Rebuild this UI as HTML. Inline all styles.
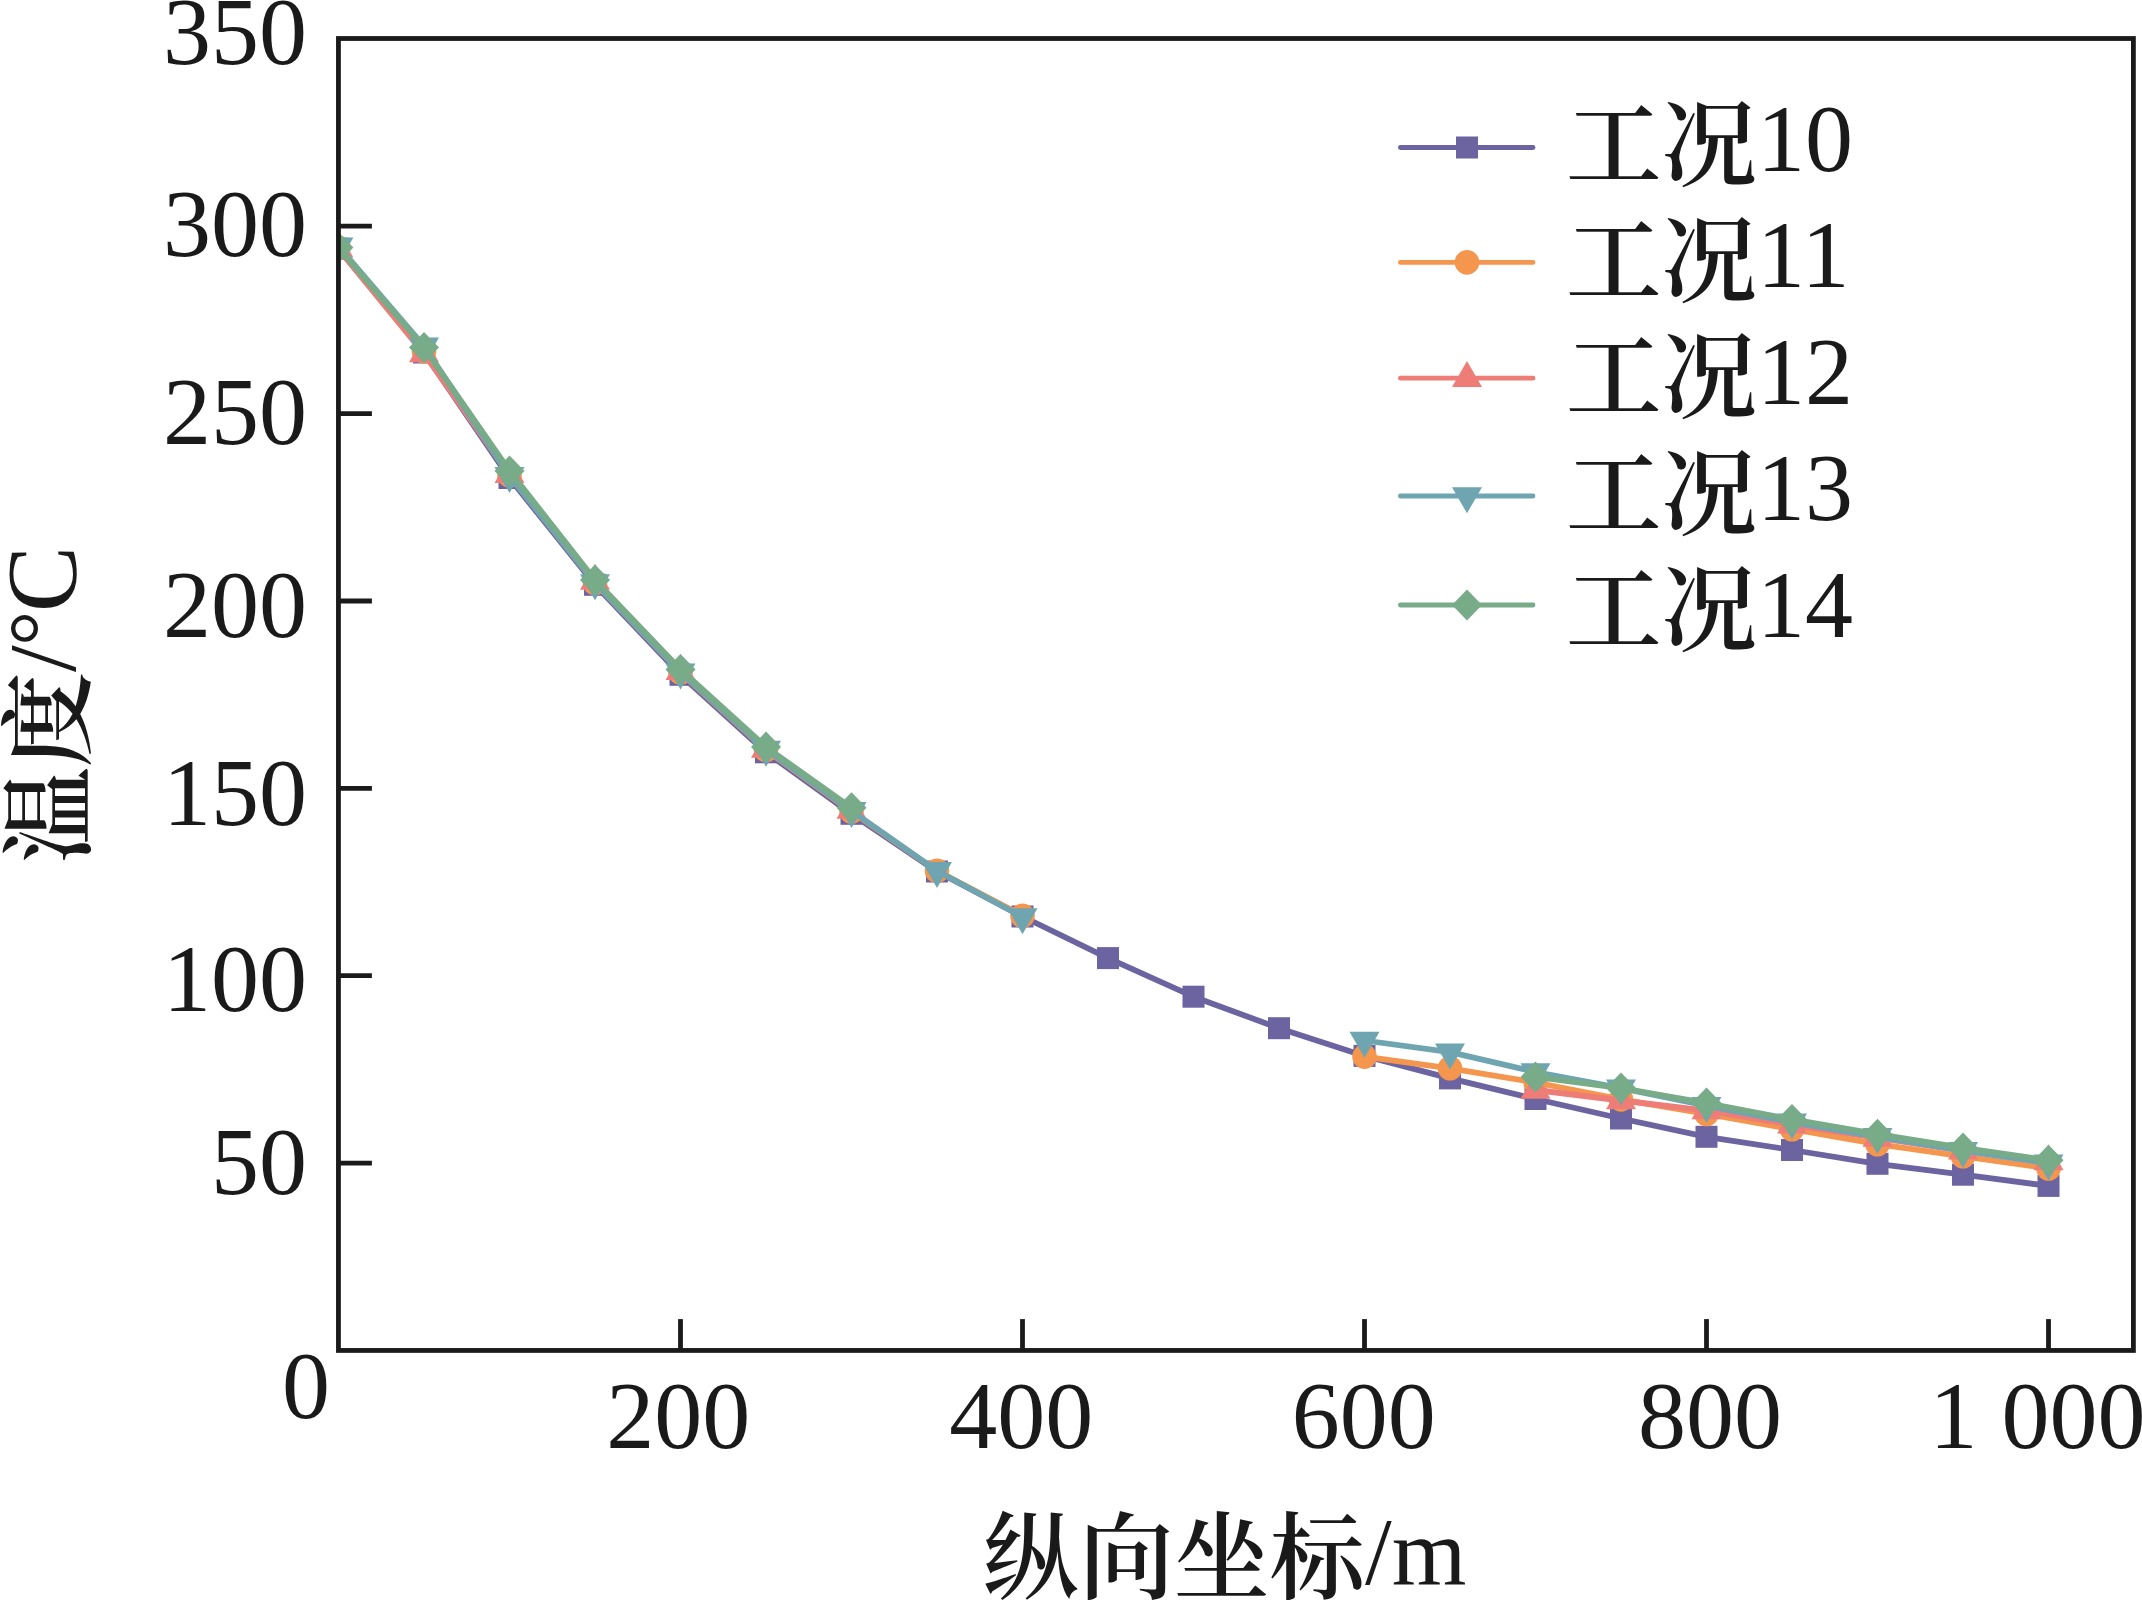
<!DOCTYPE html>
<html lang="zh"><head><meta charset="utf-8"><title>温度-纵向坐标</title>
<style>html,body{margin:0;padding:0;background:#fff;}body{width:2142px;height:1601px;overflow:hidden}svg{display:block}</style>
</head><body>
<svg width="2142" height="1601" viewBox="0 0 2142 1601">
<rect width="2142" height="1601" fill="#fff"/>
<defs><clipPath id="pc"><rect x="338.45" y="38.5" width="1795" height="1312"/></clipPath></defs>
<g clip-path="url(#pc)">
<polyline points="338.4,248.7 424.0,352.5 509.5,478.0 595.0,584.8 680.5,674.8 766.0,752.3 851.5,813.8 937.0,871.5 1022.5,916.5 1108.0,958.1 1193.5,996.7 1279.0,1028.2 1364.5,1055.9 1450.0,1078.4 1535.5,1099.0 1621.0,1118.5 1706.5,1136.8 1792.0,1150.0 1877.5,1163.8 1963.0,1174.7 2048.5,1185.9" fill="none" stroke="#6b64a1" stroke-width="5.8" stroke-linejoin="round"/>
<rect x="327.4" y="237.7" width="22" height="22" fill="#6b64a1"/>
<rect x="413.0" y="341.5" width="22" height="22" fill="#6b64a1"/>
<rect x="498.5" y="467.0" width="22" height="22" fill="#6b64a1"/>
<rect x="584.0" y="573.8" width="22" height="22" fill="#6b64a1"/>
<rect x="669.5" y="663.8" width="22" height="22" fill="#6b64a1"/>
<rect x="755.0" y="741.3" width="22" height="22" fill="#6b64a1"/>
<rect x="840.5" y="802.8" width="22" height="22" fill="#6b64a1"/>
<rect x="926.0" y="860.5" width="22" height="22" fill="#6b64a1"/>
<rect x="1011.5" y="905.5" width="22" height="22" fill="#6b64a1"/>
<rect x="1097.0" y="947.1" width="22" height="22" fill="#6b64a1"/>
<rect x="1182.5" y="985.7" width="22" height="22" fill="#6b64a1"/>
<rect x="1268.0" y="1017.2" width="22" height="22" fill="#6b64a1"/>
<rect x="1353.5" y="1044.9" width="22" height="22" fill="#6b64a1"/>
<rect x="1439.0" y="1067.4" width="22" height="22" fill="#6b64a1"/>
<rect x="1524.5" y="1088.0" width="22" height="22" fill="#6b64a1"/>
<rect x="1610.0" y="1107.5" width="22" height="22" fill="#6b64a1"/>
<rect x="1695.5" y="1125.8" width="22" height="22" fill="#6b64a1"/>
<rect x="1781.0" y="1139.0" width="22" height="22" fill="#6b64a1"/>
<rect x="1866.5" y="1152.8" width="22" height="22" fill="#6b64a1"/>
<rect x="1952.0" y="1163.7" width="22" height="22" fill="#6b64a1"/>
<rect x="2037.5" y="1174.9" width="22" height="22" fill="#6b64a1"/>
<polyline points="338.4,247.9 424.0,351.4 509.5,475.4 595.0,583.0 680.5,672.5 766.0,750.1 851.5,811.6 937.0,870.8 1022.5,915.7" fill="none" stroke="#f5964f" stroke-width="5.8" stroke-linejoin="round"/>
<polyline points="1364.5,1056.6 1450.0,1068.3 1535.5,1082.5 1621.0,1099.4 1706.5,1114.0 1792.0,1129.2 1877.5,1144.2 1963.0,1156.3 2048.5,1168.5" fill="none" stroke="#f5964f" stroke-width="5.8" stroke-linejoin="round"/>
<circle cx="338.4" cy="247.9" r="12.3" fill="#f5964f"/>
<circle cx="424.0" cy="351.4" r="12.3" fill="#f5964f"/>
<circle cx="509.5" cy="475.4" r="12.3" fill="#f5964f"/>
<circle cx="595.0" cy="583.0" r="12.3" fill="#f5964f"/>
<circle cx="680.5" cy="672.5" r="12.3" fill="#f5964f"/>
<circle cx="766.0" cy="750.1" r="12.3" fill="#f5964f"/>
<circle cx="851.5" cy="811.6" r="12.3" fill="#f5964f"/>
<circle cx="937.0" cy="870.8" r="12.3" fill="#f5964f"/>
<circle cx="1022.5" cy="915.7" r="12.3" fill="#f5964f"/>
<circle cx="1364.5" cy="1056.6" r="12.3" fill="#f5964f"/>
<circle cx="1450.0" cy="1068.3" r="12.3" fill="#f5964f"/>
<circle cx="1535.5" cy="1082.5" r="12.3" fill="#f5964f"/>
<circle cx="1621.0" cy="1099.4" r="12.3" fill="#f5964f"/>
<circle cx="1706.5" cy="1114.0" r="12.3" fill="#f5964f"/>
<circle cx="1792.0" cy="1129.2" r="12.3" fill="#f5964f"/>
<circle cx="1877.5" cy="1144.2" r="12.3" fill="#f5964f"/>
<circle cx="1963.0" cy="1156.3" r="12.3" fill="#f5964f"/>
<circle cx="2048.5" cy="1168.5" r="12.3" fill="#f5964f"/>
<polyline points="338.4,248.7 424.0,353.6 509.5,474.3 595.0,581.1 680.5,671.4 766.0,749.0 851.5,810.1" fill="none" stroke="#ee7d77" stroke-width="5.8" stroke-linejoin="round"/>
<polyline points="1535.5,1090.0 1621.0,1100.5 1706.5,1110.6 1792.0,1124.9 1877.5,1138.0 1963.0,1150.7 2048.5,1161.6" fill="none" stroke="#ee7d77" stroke-width="5.8" stroke-linejoin="round"/>
<polygon points="338.4,231.4 353.4,257.4 323.4,257.4" fill="#ee7d77"/>
<polygon points="424.0,336.3 439.0,362.3 409.0,362.3" fill="#ee7d77"/>
<polygon points="509.5,457.0 524.5,483.0 494.5,483.0" fill="#ee7d77"/>
<polygon points="595.0,563.8 610.0,589.8 580.0,589.8" fill="#ee7d77"/>
<polygon points="680.5,654.1 695.5,680.1 665.5,680.1" fill="#ee7d77"/>
<polygon points="766.0,731.7 781.0,757.7 751.0,757.7" fill="#ee7d77"/>
<polygon points="851.5,792.8 866.5,818.8 836.5,818.8" fill="#ee7d77"/>
<polygon points="1535.5,1072.7 1550.5,1098.7 1520.5,1098.7" fill="#ee7d77"/>
<polygon points="1621.0,1083.2 1636.0,1109.2 1606.0,1109.2" fill="#ee7d77"/>
<polygon points="1706.5,1093.3 1721.5,1119.3 1691.5,1119.3" fill="#ee7d77"/>
<polygon points="1792.0,1107.6 1807.0,1133.6 1777.0,1133.6" fill="#ee7d77"/>
<polygon points="1877.5,1120.7 1892.5,1146.7 1862.5,1146.7" fill="#ee7d77"/>
<polygon points="1963.0,1133.4 1978.0,1159.4 1948.0,1159.4" fill="#ee7d77"/>
<polygon points="2048.5,1144.3 2063.5,1170.3 2033.5,1170.3" fill="#ee7d77"/>
<polyline points="338.4,246.2 424.0,346.1 509.5,475.8 595.0,583.0 680.5,672.2 766.0,749.4 851.5,810.8 937.0,870.8 1022.5,916.9" fill="none" stroke="#6fa5b0" stroke-width="5.8" stroke-linejoin="round"/>
<polyline points="1364.5,1040.5 1450.0,1052.1 1535.5,1072.0 1621.0,1088.1 1706.5,1105.7 1792.0,1122.2 1877.5,1136.8 1963.0,1150.7 2048.5,1163.1" fill="none" stroke="#6fa5b0" stroke-width="5.8" stroke-linejoin="round"/>
<polygon points="338.4,263.5 353.4,237.5 323.4,237.5" fill="#6fa5b0"/>
<polygon points="424.0,363.4 439.0,337.4 409.0,337.4" fill="#6fa5b0"/>
<polygon points="509.5,493.1 524.5,467.1 494.5,467.1" fill="#6fa5b0"/>
<polygon points="595.0,600.3 610.0,574.3 580.0,574.3" fill="#6fa5b0"/>
<polygon points="680.5,689.5 695.5,663.5 665.5,663.5" fill="#6fa5b0"/>
<polygon points="766.0,766.7 781.0,740.7 751.0,740.7" fill="#6fa5b0"/>
<polygon points="851.5,828.1 866.5,802.1 836.5,802.1" fill="#6fa5b0"/>
<polygon points="937.0,888.1 952.0,862.1 922.0,862.1" fill="#6fa5b0"/>
<polygon points="1022.5,934.2 1037.5,908.2 1007.5,908.2" fill="#6fa5b0"/>
<polygon points="1364.5,1057.8 1379.5,1031.8 1349.5,1031.8" fill="#6fa5b0"/>
<polygon points="1450.0,1069.4 1465.0,1043.4 1435.0,1043.4" fill="#6fa5b0"/>
<polygon points="1535.5,1089.3 1550.5,1063.3 1520.5,1063.3" fill="#6fa5b0"/>
<polygon points="1621.0,1105.4 1636.0,1079.4 1606.0,1079.4" fill="#6fa5b0"/>
<polygon points="1706.5,1123.0 1721.5,1097.0 1691.5,1097.0" fill="#6fa5b0"/>
<polygon points="1792.0,1139.5 1807.0,1113.5 1777.0,1113.5" fill="#6fa5b0"/>
<polygon points="1877.5,1154.1 1892.5,1128.1 1862.5,1128.1" fill="#6fa5b0"/>
<polygon points="1963.0,1168.0 1978.0,1142.0 1948.0,1142.0" fill="#6fa5b0"/>
<polygon points="2048.5,1180.4 2063.5,1154.4 2033.5,1154.4" fill="#6fa5b0"/>
<polyline points="338.4,247.6 424.0,347.6 509.5,470.9 595.0,580.0 680.5,669.5 766.0,747.1 851.5,807.8" fill="none" stroke="#78ab88" stroke-width="5.8" stroke-linejoin="round"/>
<polyline points="1535.5,1076.9 1621.0,1088.1 1706.5,1103.1 1792.0,1119.4 1877.5,1134.2 1963.0,1147.9 2048.5,1160.3" fill="none" stroke="#78ab88" stroke-width="5.8" stroke-linejoin="round"/>
<polygon points="338.4,232.1 353.4,247.6 338.4,263.1 323.4,247.6" fill="#78ab88"/>
<polygon points="424.0,332.1 439.0,347.6 424.0,363.1 409.0,347.6" fill="#78ab88"/>
<polygon points="509.5,455.4 524.5,470.9 509.5,486.4 494.5,470.9" fill="#78ab88"/>
<polygon points="595.0,564.5 610.0,580.0 595.0,595.5 580.0,580.0" fill="#78ab88"/>
<polygon points="680.5,654.0 695.5,669.5 680.5,685.0 665.5,669.5" fill="#78ab88"/>
<polygon points="766.0,731.6 781.0,747.1 766.0,762.6 751.0,747.1" fill="#78ab88"/>
<polygon points="851.5,792.3 866.5,807.8 851.5,823.3 836.5,807.8" fill="#78ab88"/>
<polygon points="1535.5,1061.4 1550.5,1076.9 1535.5,1092.4 1520.5,1076.9" fill="#78ab88"/>
<polygon points="1621.0,1072.6 1636.0,1088.1 1621.0,1103.6 1606.0,1088.1" fill="#78ab88"/>
<polygon points="1706.5,1087.6 1721.5,1103.1 1706.5,1118.6 1691.5,1103.1" fill="#78ab88"/>
<polygon points="1792.0,1103.9 1807.0,1119.4 1792.0,1134.9 1777.0,1119.4" fill="#78ab88"/>
<polygon points="1877.5,1118.7 1892.5,1134.2 1877.5,1149.7 1862.5,1134.2" fill="#78ab88"/>
<polygon points="1963.0,1132.4 1978.0,1147.9 1963.0,1163.4 1948.0,1147.9" fill="#78ab88"/>
<polygon points="2048.5,1144.8 2063.5,1160.3 2048.5,1175.8 2033.5,1160.3" fill="#78ab88"/>
</g>
<rect x="338.45" y="38.5" width="1794.95" height="1311.95" fill="none" stroke="#1a1a1a" stroke-width="4.8"/>
<line x1="339" y1="1163.1" x2="371.9" y2="1163.1" stroke="#1a1a1a" stroke-width="4.8"/>
<line x1="339" y1="975.7" x2="371.9" y2="975.7" stroke="#1a1a1a" stroke-width="4.8"/>
<line x1="339" y1="788.3" x2="371.9" y2="788.3" stroke="#1a1a1a" stroke-width="4.8"/>
<line x1="339" y1="601.0" x2="371.9" y2="601.0" stroke="#1a1a1a" stroke-width="4.8"/>
<line x1="339" y1="413.6" x2="371.9" y2="413.6" stroke="#1a1a1a" stroke-width="4.8"/>
<line x1="339" y1="226.2" x2="371.9" y2="226.2" stroke="#1a1a1a" stroke-width="4.8"/>
<line x1="680.5" y1="1350.5" x2="680.5" y2="1319.1" stroke="#1a1a1a" stroke-width="4.8"/>
<line x1="1022.5" y1="1350.5" x2="1022.5" y2="1319.1" stroke="#1a1a1a" stroke-width="4.8"/>
<line x1="1364.5" y1="1350.5" x2="1364.5" y2="1319.1" stroke="#1a1a1a" stroke-width="4.8"/>
<line x1="1706.5" y1="1350.5" x2="1706.5" y2="1319.1" stroke="#1a1a1a" stroke-width="4.8"/>
<line x1="2048.5" y1="1350.5" x2="2048.5" y2="1319.1" stroke="#1a1a1a" stroke-width="4.8"/>
<g style="font-family:'Liberation Serif','Noto Serif CJK SC',serif;font-size:96px" fill="#1a1a1a">
<text x="307" y="1194.1" text-anchor="end">50</text>
<text x="307" y="1010.6" text-anchor="end">100</text>
<text x="307" y="824.9" text-anchor="end">150</text>
<text x="307" y="636.7" text-anchor="end">200</text>
<text x="307" y="444.4" text-anchor="end">250</text>
<text x="307" y="255.9" text-anchor="end">300</text>
<text x="307" y="63.6" text-anchor="end">350</text>
<text x="330" y="1418.3" text-anchor="end">0</text>
<text x="678.3" y="1447.7" text-anchor="middle">200</text>
<text x="1021.2" y="1447.7" text-anchor="middle">400</text>
<text x="1363.7" y="1447.7" text-anchor="middle">600</text>
<text x="1710" y="1447.7" text-anchor="middle">800</text>
<text x="1929.5" y="1447.7" style="white-space:pre">1 000</text>
<text x="983" y="1584"><tspan dy="8" style="font-size:95.5px;font-weight:600">纵向坐标</tspan><tspan dy="-8">/m</tspan></text>
<text transform="translate(75,863) rotate(-90)"><tspan dy="8" style="font-size:95.5px;font-weight:600">温度</tspan><tspan dy="-8">/</tspan></text>
<text transform="translate(69.5,646) rotate(-90)" style="font-size:88px">°</text>
<text transform="translate(75,612) rotate(-90)" style="font-size:99px">C</text>
<line x1="1400.4" y1="147.5" x2="1533" y2="147.5" stroke="#6b64a1" stroke-width="4.8" stroke-linecap="round"/>
<rect x="1456.0" y="136.5" width="22" height="22" fill="#6b64a1"/>
<text x="1566" y="171"><tspan dy="7.5" style="font-size:95.5px;font-weight:600">工况</tspan><tspan dy="-7.5" dx="0">10</tspan></text>
<line x1="1400.4" y1="262.4" x2="1533" y2="262.4" stroke="#f5964f" stroke-width="4.8" stroke-linecap="round"/>
<circle cx="1467.0" cy="262.4" r="12.3" fill="#f5964f"/>
<text x="1566" y="287.4"><tspan dy="7.5" style="font-size:95.5px;font-weight:600">工况</tspan><tspan dy="-7.5" dx="0">11</tspan></text>
<line x1="1400.4" y1="378.2" x2="1533" y2="378.2" stroke="#ee7d77" stroke-width="4.8" stroke-linecap="round"/>
<polygon points="1467.0,360.9 1482.0,386.9 1452.0,386.9" fill="#ee7d77"/>
<text x="1566" y="403.8"><tspan dy="7.5" style="font-size:95.5px;font-weight:600">工况</tspan><tspan dy="-7.5" dx="0">12</tspan></text>
<line x1="1400.4" y1="496" x2="1533" y2="496" stroke="#6fa5b0" stroke-width="4.8" stroke-linecap="round"/>
<polygon points="1467.0,513.3 1482.0,487.3 1452.0,487.3" fill="#6fa5b0"/>
<text x="1566" y="520.2"><tspan dy="7.5" style="font-size:95.5px;font-weight:600">工况</tspan><tspan dy="-7.5" dx="0">13</tspan></text>
<line x1="1400.4" y1="605" x2="1533" y2="605" stroke="#78ab88" stroke-width="4.8" stroke-linecap="round"/>
<polygon points="1467.0,589.5 1482.0,605.0 1467.0,620.5 1452.0,605.0" fill="#78ab88"/>
<text x="1566" y="636.6"><tspan dy="7.5" style="font-size:95.5px;font-weight:600">工况</tspan><tspan dy="-7.5" dx="0">14</tspan></text>
</g>
</svg>
</body></html>
